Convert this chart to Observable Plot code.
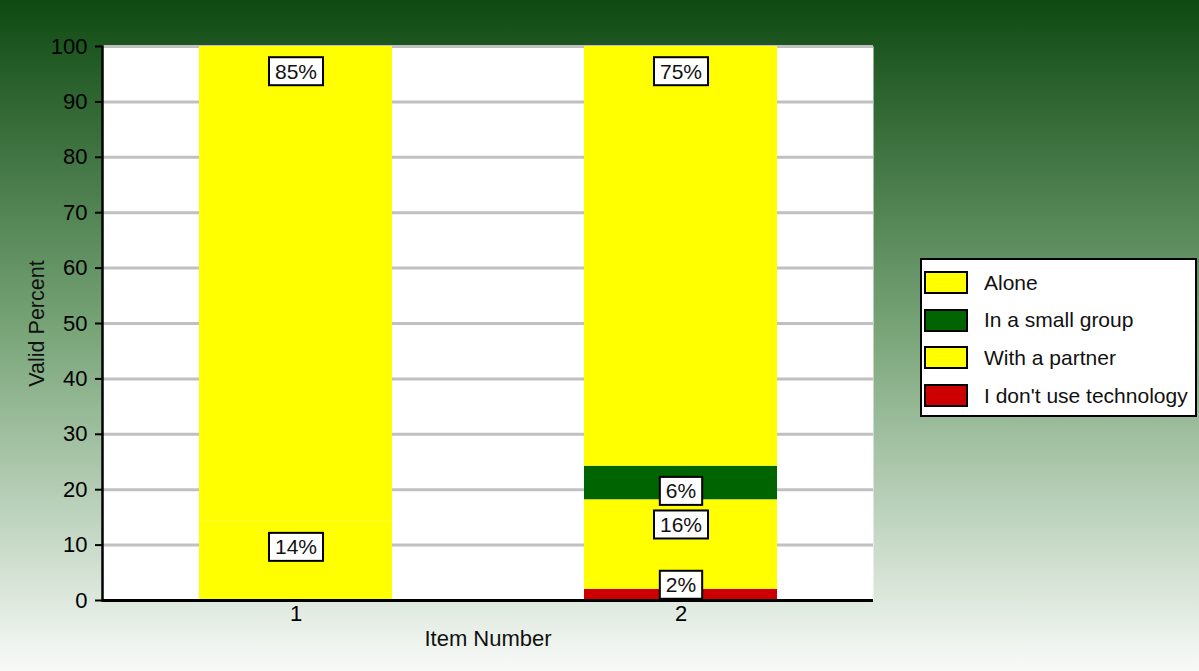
<!DOCTYPE html>
<html>
<head>
<meta charset="utf-8">
<script src="https://cdn.jsdelivr.net/npm/d3@7"></script>
<script src="https://cdn.jsdelivr.net/npm/@observablehq/plot@0.6"></script>
<style>
  html, body { margin: 0; padding: 0; }
  #wrap {
    position: relative; width: 1199px; height: 671px; overflow: hidden;
    background: linear-gradient(to bottom, #0f4a12 0%, #7aa67a 50%, #f8faf8 100%);
    font-family: "Liberation Sans", Arial, sans-serif;
  }
  #wrap svg { position: absolute; left: 0; top: 0; }
  #legend {
    position: absolute; left: 920px; top: 258px; width: 273px; height: 155px;
    background: white; border: 2px solid black; box-sizing: content-box;
  }
  .row { position: absolute; left: 2px; height: 23px; display: flex; align-items: center; }
  .sw { width: 40px; height: 19px; border: 2px solid black; }
  .lt { margin-left: 16px; font-size: 21px; color: #111; white-space: nowrap; }
</style>
</head>
<body>
<div id="wrap"><div id="legend"></div></div>
<script>
// ---- data ----
const items = ["1", "2"];
const categories = ["Alone", "In a small group", "With a partner", "I don't use technology"];
const colors = ["#ffff00", "#006400", "#ffff00", "#cc0000"];
const item1Values = [85, 0, 14, 0];
const item2Values = [75, 6, 16, 2];
const yTicks = [0, 10, 20, 30, 40, 50, 60, 70, 80, 90, 100];
const stackOrder = ["I don't use technology", "With a partner", "In a small group", "Alone"];

// ---- build tables ----
const seriesByItem = {"1": item1Values, "2": item2Values};
const rows = [];
const labels = [];
for (const it of items) {
  const vals = seriesByItem[it];
  const total = d3.sum(vals);
  let cum = 0;
  for (const cat of stackOrder) {
    const v = vals[categories.indexOf(cat)];
    const pct = v / total * 100;
    rows.push({item: it, category: cat, pct});
    cum += pct;
    if (v > 0) labels.push({item: it, top: Math.max(cum - 4.6, 2.7), label: v + "%"});
  }
}

const plot = Plot.plot({
  width: 1199,
  height: 671,
  marginLeft: 102,
  marginRight: 326,
  marginTop: 46,
  marginBottom: 71,
  style: {background: "transparent", fontFamily: "'Liberation Sans', Arial, sans-serif", color: "black"},
  x: {domain: items, paddingInner: 0.5, paddingOuter: 0.25},
  y: {domain: [0, 100]},
  color: {domain: categories, range: colors},
  marks: [
    Plot.frame({fill: "white", stroke: "none"}),
    Plot.gridY(yTicks, {stroke: "#c0c0c0", strokeWidth: 3, strokeOpacity: 1}),
    Plot.barY(rows, {x: "item", y: "pct", fill: "category", order: stackOrder}),
    Plot.axisY(yTicks, {tickSize: 7, tickPadding: 8, strokeWidth: 2, fontSize: 22, label: null, tickFormat: d => d}),
    Plot.axisX({tickSize: 0, tickPadding: 5, fontSize: 22, label: null}),
    Plot.frame({anchor: "left", strokeWidth: 2.5}),
    Plot.ruleY([0], {strokeWidth: 3}),
    Plot.text(labels, {x: "item", y: "top", text: "label", fontSize: 21, fill: "#111"}),
    Plot.text(["Valid Percent"], {frameAnchor: "left", dx: -65, rotate: -90, textAnchor: "middle", fontSize: 21.5, fill: "#111"}),
    Plot.text(["Item Number"], {frameAnchor: "bottom", dy: 45, fontSize: 22, fill: "#111"})
  ]
});
const wrap = document.getElementById("wrap");
wrap.insertBefore(plot, document.getElementById("legend"));

// white boxes behind segment labels (first text mark = segment labels)
const ns = "http://www.w3.org/2000/svg";
const textGroups = plot.querySelectorAll('g[aria-label="text"]');
const labelGroup = textGroups[0];
if (labelGroup) {
  labelGroup.querySelectorAll("text").forEach(t => {
    const b = t.getBBox();
    const r = document.createElementNS(ns, "rect");
    r.setAttribute("x", b.x - 6);
    r.setAttribute("y", b.y - 2.5);
    r.setAttribute("width", b.width + 12);
    r.setAttribute("height", b.height + 5);
    r.setAttribute("fill", "white");
    r.setAttribute("stroke", "black");
    r.setAttribute("stroke-width", 2);
    if (t.getAttribute("transform")) r.setAttribute("transform", t.getAttribute("transform"));
    t.parentNode.insertBefore(r, t);
  });
}

// legend
const legend = document.getElementById("legend");
categories.forEach((c, i) => {
  const row = document.createElement("div");
  row.className = "row";
  row.style.top = (11 + i * 37.7) + "px";
  const sw = document.createElement("div");
  sw.className = "sw";
  sw.style.background = colors[i];
  const lt = document.createElement("div");
  lt.className = "lt";
  lt.textContent = c;
  row.appendChild(sw); row.appendChild(lt);
  legend.appendChild(row);
});
</script>
</body>
</html>
